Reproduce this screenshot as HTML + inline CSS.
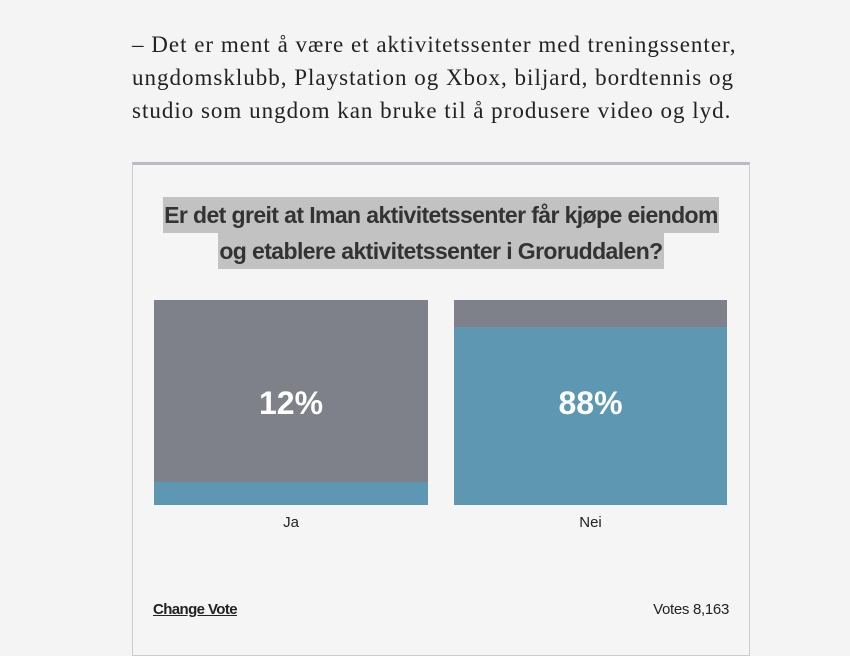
<!DOCTYPE html>
<html><head><meta charset="utf-8"><style>
body{margin:0;width:850px;height:638px;background:#f4f4f4;overflow:hidden;position:relative;font-family:"Liberation Sans",sans-serif}
.p{position:absolute;left:132px;top:28px;font-family:"Liberation Serif",serif;font-size:23px;line-height:33px;color:#222;letter-spacing:1px;white-space:nowrap}
.box{position:absolute;left:132px;top:162px;width:616px;height:490px;border:1px solid #ccc;border-top:3px solid #b9bbc2;background:#f5f5f5}
.t{position:absolute;width:618px;text-align:center;top:197px;font-weight:bold;font-size:23px;color:#333;letter-spacing:-0.6px}
.t span{display:inline-block;background:#c2c2c2;height:36px;line-height:36px;padding:0 1px}
.bar{position:absolute;top:300px;height:205px;background:#7e818a}
.blue{position:absolute;left:0;right:0;bottom:0;background:#5d97b2}
.pct{position:absolute;font-weight:bold;font-size:32px;color:#fff;text-align:center;width:100%}
.lab{position:absolute;top:514px;font-size:15px;color:#222;text-align:center}
</style></head><body>
<div class="p">– Det er ment å være et aktivitetssenter med treningssenter,<br>ungdomsklubb, Playstation og Xbox, biljard, bordtennis og<br>studio som ungdom kan bruke til å produsere video og lyd.</div>
<div class="box"></div>
<div class="t" style="left:132px"><span>Er det greit at Iman aktivitetssenter får kjøpe eiendom</span><br><span>og etablere aktivitetssenter i Groruddalen?</span></div>
<div class="bar" style="left:154px;width:274px"><div class="blue" style="height:23px"></div><div class="pct" style="top:85px">12%</div></div>
<div class="bar" style="left:454px;width:273px"><div class="blue" style="height:178px"></div><div class="pct" style="top:85px">88%</div></div>
<div class="lab" style="left:154px;width:274px">Ja</div>
<div class="lab" style="left:454px;width:273px">Nei</div>
<div style="position:absolute;left:153px;top:601px;font-size:15px;font-weight:bold;text-decoration:underline;color:#222;letter-spacing:-0.6px">Change Vote</div>
<div style="position:absolute;right:121px;top:601px;font-size:15px;color:#222;letter-spacing:-0.3px">Votes 8,163</div>
</body></html>
